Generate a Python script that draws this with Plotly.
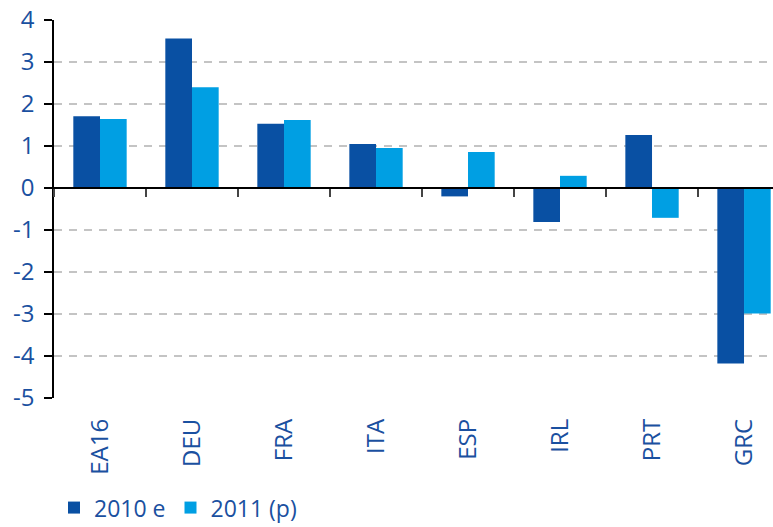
import plotly.graph_objects as go

categories = ["EA16", "DEU", "FRA", "ITA", "ESP", "IRL", "PRT", "GRC"]
series_2010 = [1.71, 3.56, 1.53, 1.05, -0.20, -0.81, 1.26, -4.18]
series_2011 = [1.64, 2.40, 1.62, 0.95, 0.86, 0.29, -0.71, -2.99]
y_ticks = [4, 3, 2, 1, 0, -1, -2, -3, -4, -5]

dark = "#0950a3"
light = "#009fe3"
text_blue = "#1a50a0"
font_family = "Open Sans, Lato, sans-serif"

fig = go.Figure()
fig.add_trace(go.Bar(name="2010 e", x=categories, y=series_2010, marker_color=dark,
                     marker_line_width=0))
fig.add_trace(go.Bar(name="2011 (p)", x=categories, y=series_2011, marker_color=light,
                     marker_line_width=0))
# invisible helper trace so the zero-line category ticks axis renders
fig.add_trace(go.Scatter(x=categories, y=[None] * len(categories), xaxis="x2",
                         showlegend=False, hoverinfo="skip"))

fig.update_layout(
    width=773, height=527,
    margin=dict(l=54, r=0, t=20, b=129, autoexpand=False),
    plot_bgcolor="white", paper_bgcolor="white",
    barmode="group", bargap=0.42, bargroupgap=0,
    font=dict(family=font_family, color=text_blue),
    xaxis=dict(
        type="category", categoryorder="array", categoryarray=categories,
        range=[-0.5, 7.315], showline=False, showgrid=False, ticks="",
        tickangle=-90, tickfont=dict(size=24, color=text_blue),
        ticklabelstandoff=15, zeroline=False, automargin=False,
    ),
    xaxis2=dict(
        type="category", categoryorder="array", categoryarray=categories,
        range=[-0.5, 7.315], overlaying="x", anchor="free", position=5 / 9,
        side="bottom", showticklabels=False, showgrid=False,
        ticks="outside", ticklen=8, tickwidth=2, tickcolor="#444444",
        tickson="boundaries", showline=True, linecolor="black", linewidth=2,
        zeroline=False, automargin=False,
    ),
    yaxis=dict(
        range=[-5, 4], tickvals=y_ticks, ticktext=[str(v) for v in y_ticks],
        showline=True, linecolor="black", linewidth=1.5,
        ticks="outside", ticklen=8, tickwidth=1.5, tickcolor="black",
        tickfont=dict(size=24, color=text_blue), ticklabelstandoff=5,
        showgrid=True, gridcolor="#c4c4c4", gridwidth=1.5, griddash="8px,7px",
        zeroline=False, automargin=False,
    ),
    legend=dict(orientation="h", x=0.0, xanchor="left", y=-0.29, yanchor="middle",
                font=dict(size=23, color=text_blue), itemwidth=30,
                tracegroupgap=0, bgcolor="rgba(0,0,0,0)"),
    showlegend=True,
)

fig.write_html("out.html", config={"displayModeBar": False},
               post_script="document.body.style.margin='0';")
